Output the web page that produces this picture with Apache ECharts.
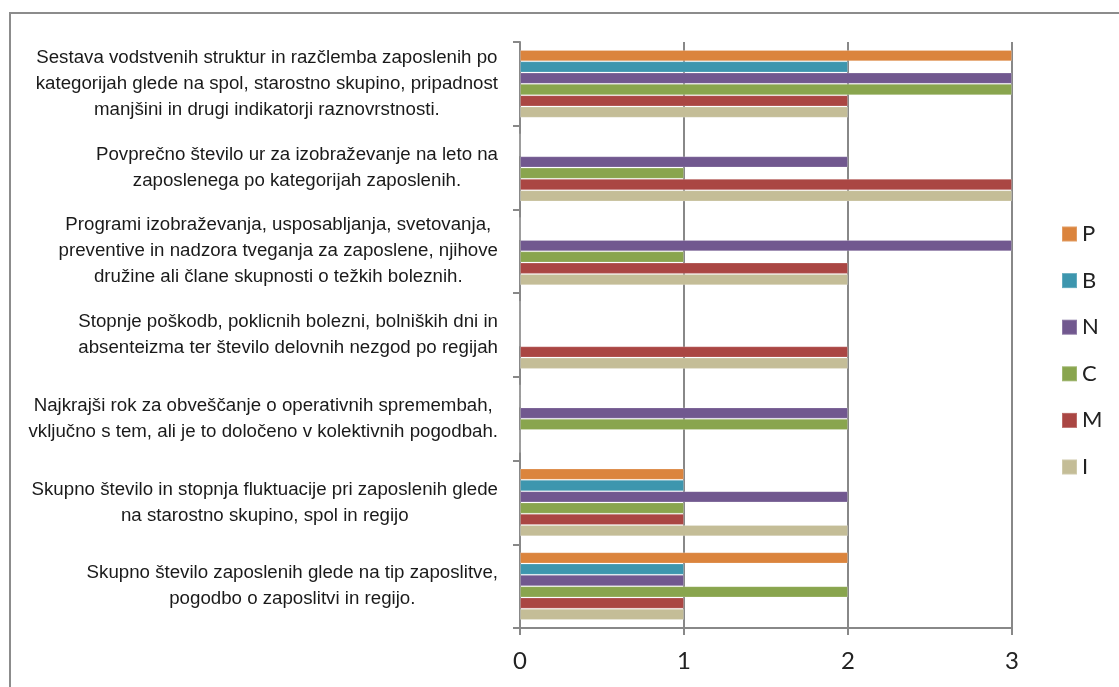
<!DOCTYPE html>
<html>
<head>
<meta charset="utf-8">
<script src="https://cdn.jsdelivr.net/npm/echarts@6/dist/echarts.min.js"></script>
<style>
  html, body { margin: 0; padding: 0; background: #fff; }
  #chart { width: 1119px; height: 687px; }
</style>
</head>
<body>
<div id="chart"></div>
<script>
// categories, top to bottom as in the picture
const categories = [
  'Sestava vodstvenih struktur in razčlemba zaposlenih po\nkategorijah glede na spol, starostno skupino, pripadnost\nmanjšini in drugi indikatorji raznovrstnosti.',
  'Povprečno število ur za izobraževanje na leto na\nzaposlenega po kategorijah zaposlenih.',
  'Programi izobraževanja, usposabljanja, svetovanja,\npreventive in nadzora tveganja za zaposlene, njihove\ndružine ali člane skupnosti o težkih boleznih.',
  'Stopnje poškodb, poklicnih bolezni, bolniških dni in\nabsenteizma ter število delovnih nezgod po regijah',
  'Najkrajši rok za obveščanje o operativnih spremembah,\nvključno s tem, ali je to določeno v kolektivnih pogodbah.',
  'Skupno število in stopnja fluktuacije pri zaposlenih glede\nna starostno skupino, spol in regijo',
  'Skupno število zaposlenih glede na tip zaposlitve,\npogodbo o zaposlitvi in regijo.'
];

// values per series, same order as categories
const valuesP = [3, 0, 0, 0, 0, 1, 2];
const valuesB = [2, 0, 0, 0, 0, 1, 1];
const valuesN = [3, 2, 3, 0, 2, 2, 1];
const valuesC = [3, 1, 1, 0, 2, 1, 2];
const valuesM = [2, 3, 2, 2, 0, 1, 1];
const valuesI = [2, 3, 2, 2, 0, 2, 1];

const seriesNames = ['P', 'B', 'N', 'C', 'M', 'I'];
const seriesColors = ['#db843d', '#3d96ae', '#71588f', '#89a54e', '#aa4643', '#c4bd97'];
const seriesValues = [valuesP, valuesB, valuesN, valuesC, valuesM, valuesI];

const xTicks = [0, 1, 2, 3];

const labelFont = "'Liberation Sans Narrow', 'Arial Narrow', 'Liberation Sans', Arial, sans-serif";

const chart = echarts.init(document.getElementById('chart'));

// category axis runs bottom-up, so flip the lists
const yData = categories.slice().reverse();

const series = seriesNames.map((name, i) => ({
  name: name,
  type: 'bar',
  data: seriesValues[i].slice().reverse(),
  barGap: 0,
  barCategoryGap: '19%',
  itemStyle: {
    color: seriesColors[i],
    borderColor: 'rgba(255,255,255,0.2)',
    borderWidth: 1
  },
  silent: true
}));

const option = {
  animation: false,
  backgroundColor: '#fff',
  graphic: [{
    type: 'rect',
    shape: { x: 10, y: 13, width: 1200, height: 800 },
    style: { fill: 'none', stroke: '#8c8c8c', lineWidth: 2 },
    z: -1
  }],
  grid: { left: 520, right: 107, top: 42, bottom: 59 },
  legend: {
    data: seriesNames,
    orient: 'vertical',
    left: 1061,
    top: 223,
    padding: 0,
    itemWidth: 15,
    itemHeight: 15,
    itemGap: 24.6,
    icon: 'rect',
    textStyle: { fontFamily: 'Lato', fontSize: 22, color: '#222' }
  },
  xAxis: {
    type: 'value',
    min: xTicks[0],
    max: xTicks[xTicks.length - 1],
    interval: 1,
    axisLine: { show: true, lineStyle: { color: '#888', width: 2 } },
    axisTick: { show: true, length: 7, lineStyle: { color: '#888', width: 2 } },
    splitLine: { show: true, lineStyle: { color: '#888', width: 2 } },
    axisLabel: { fontFamily: 'Lato', fontSize: 24, color: '#222', margin: 21 }
  },
  yAxis: {
    type: 'category',
    data: yData,
    axisLine: { show: true, lineStyle: { color: '#888', width: 2 } },
    axisTick: { show: true, length: 7, lineStyle: { color: '#888', width: 2 } },
    axisLabel: {
      margin: 22,
      color: '#1a1a1a',
      fontFamily: labelFont,
      fontSize: 18.7,
      lineHeight: 26,
      formatter: function (v) {
        return v.split('\n').map(l => '{c|' + l + '}').join('\n');
      },
      rich: {
        c: { align: 'center', fontFamily: labelFont, fontSize: 18.7, lineHeight: 26, color: '#1a1a1a' }
      }
    }
  },
  series: series
};

chart.setOption(option);
</script>
</body>
</html>
